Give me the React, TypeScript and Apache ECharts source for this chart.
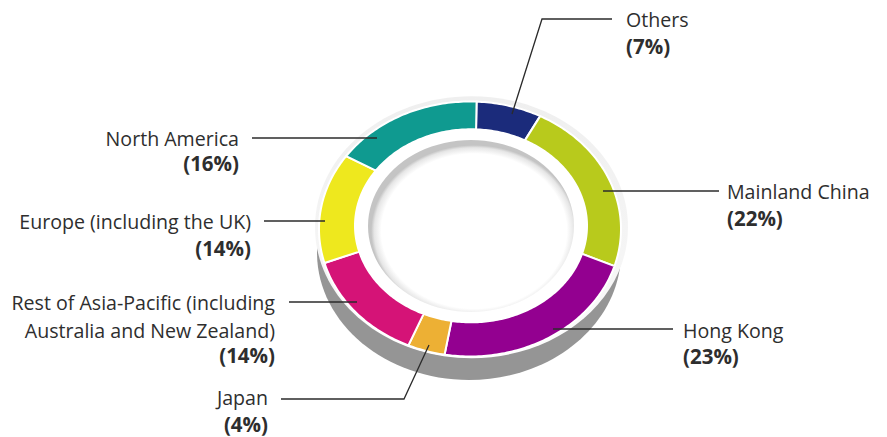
import React, { useEffect, useRef } from "react";
import * as echarts from "echarts";

// ---- data ----
const categories = [
  "Others",
  "Mainland China",
  "Hong Kong",
  "Japan",
  "Rest of Asia-Pacific (including\nAustralia and New Zealand)",
  "Europe (including the UK)",
  "North America",
];
const shares = [7, 22, 23, 4, 14, 14, 16];
const sliceColors = ["#1b2b7b", "#b8ca1c", "#930090", "#edb034", "#d51377", "#eee81e", "#0f9a90"];

// ---- layout (annotation placement, not data) ----
const labelLayout = [
  { line: [[612, 19], [542, 19], [512, 114]], x: 626, y: [19], py: 46, align: "left" },
  { line: [[719, 191], [603, 191]], x: 727, y: [191], py: 218, align: "left" },
  { line: [[673, 329], [553, 329]], x: 683, y: [330], py: 356, align: "left" },
  { line: [[281, 399], [404, 399], [429, 345]], x: 268, y: [397], py: 424, align: "right" },
  { line: [[289, 302], [357, 302]], x: 275, y: [302.5, 330], py: 355, align: "right" },
  { line: [[264, 221], [325, 221]], x: 251, y: [221], py: 248, align: "right" },
  { line: [[252, 138], [377, 138]], x: 239, y: [138], py: 163, align: "right" },
];

const RING = { cx: 470, cy: 229, rx: 151, ry: 127.5, icx: 471, icy: 225.8, irx: 116, iry: 96.5 };
const START_DEG = 2.5;
const FONT = "'Open Sans', 'Noto Sans', sans-serif";
const TEXT_COLOR = "#2e2e2e";

function renderItem(params: any, api: any) {
  const i = params.dataIndex;
  const v = api.value(0);
  const total = shares.reduce((a, b) => a + b, 0);
  const before = shares.slice(0, i).reduce((a, b) => a + b, 0);
  const a0 = START_DEG + (before / total) * 360;
  const a1 = a0 + (v / total) * 360;
  const pts: number[][] = [];
  const steps = Math.max(4, Math.ceil(a1 - a0));
  for (let s = 0; s <= steps; s++) {
    const t = ((a0 + ((a1 - a0) * s) / steps) * Math.PI) / 180;
    pts.push([RING.cx + RING.rx * Math.sin(t), RING.cy - RING.ry * Math.cos(t)]);
  }
  for (let s = steps; s >= 0; s--) {
    const t = ((a0 + ((a1 - a0) * s) / steps) * Math.PI) / 180;
    pts.push([RING.icx + RING.irx * Math.sin(t), RING.icy - RING.iry * Math.cos(t)]);
  }
  const lay = labelLayout[i];
  const lines = categories[i].split("\n");
  const children: any[] = [
    {
      type: "polygon",
      shape: { points: pts },
      style: { fill: sliceColors[i], stroke: "#ffffff", lineWidth: 2 },
    },
    {
      type: "polyline",
      z2: 10,
      shape: { points: lay.line },
      style: { stroke: "#2b2b2b", lineWidth: 1.3, fill: null },
    },
  ];
  lines.forEach((ln, k) => {
    children.push({
      type: "text",
      z2: 10,
      style: {
        text: ln,
        x: lay.x,
        y: lay.y[k],
        align: lay.align,
        verticalAlign: "middle",
        fontFamily: FONT,
        fontSize: 19.6,
        lineHeight: 20,
        fontWeight: "normal",
        fill: TEXT_COLOR,
      },
    });
  });
  children.push({
    type: "text",
    z2: 10,
    style: {
      text: `(${v}%)`,
      x: lay.x,
      y: lay.py,
      align: lay.align,
      verticalAlign: "middle",
      fontFamily: FONT,
      fontSize: 20.5,
      lineHeight: 20,
      fontWeight: "bold",
      fill: TEXT_COLOR,
    },
  });
  return { type: "group", children };
}

export default function App() {
  const ref = useRef<HTMLDivElement>(null);
  useEffect(() => {
    if (!ref.current) return;
    const chart = echarts.init(ref.current, null, { renderer: "svg" });
    const sideGray = "#959595";
    chart.setOption({
      animation: false,
      backgroundColor: "#ffffff",
      graphic: [
        {
          type: "group",
          z: 0,
          children: [
            { type: "rect", shape: { x: 317, y: 229, width: 304, height: 24 }, style: { fill: sideGray } },
            { type: "ellipse", shape: { cx: 469, cy: 252.5, rx: 152, ry: 127.5 }, style: { fill: sideGray } },
            {
              type: "ellipse",
              shape: { cx: 471.5, cy: 227.2, rx: 156.5, ry: 131 },
              style: {
                fill: new echarts.graphic.LinearGradient(0, 0, 0, 1, [
                  { offset: 0, color: "#efefef" },
                  { offset: 0.7, color: "#f6f6f6" },
                  { offset: 1, color: "#ffffff" },
                ]),
              },
            },
            {
              type: "ellipse",
              shape: { cx: RING.icx, cy: RING.icy, rx: RING.irx, ry: RING.iry },
              style: { fill: "#ffffff" },
            },
            {
              type: "group",
              x: 471,
              y: 226,
              scaleY: 86 / 103,
              children: [
                {
                  type: "circle",
                  shape: { cx: 0, cy: 0, r: 103 },
                  style: {
                    fill: new echarts.graphic.RadialGradient(0.515, 0.53, 0.5, [
                      { offset: 0, color: "#ffffff" },
                      { offset: 0.9, color: "#ffffff" },
                      { offset: 0.97, color: "#e6e6e6" },
                      { offset: 1, color: "#c4c4c4" },
                    ]),
                  },
                },
              ],
            },
          ],
        },
      ],
      series: [
        {
          type: "custom",
          coordinateSystem: "none",
          silent: true,
          z: 2,
          renderItem,
          data: shares.map((v, i) => ({ name: categories[i], value: [v] })),
        },
      ],
    });
    return () => chart.dispose();
  }, []);
  return (
    <div
      ref={ref}
      style={{ position: "fixed", left: 0, top: 0, width: 887, height: 437, background: "#fff" }}
    />
  );
}
